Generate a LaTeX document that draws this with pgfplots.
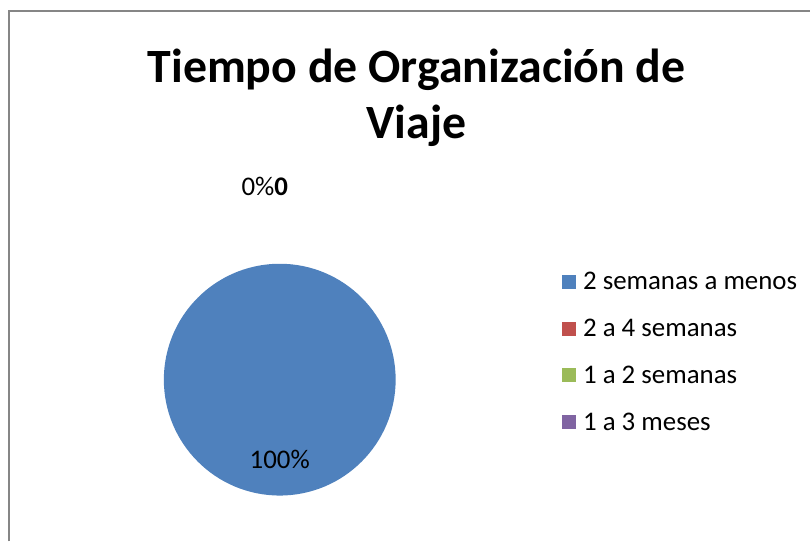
\documentclass[border=0pt]{standalone}
\usepackage{pgfplots}
\usepackage{pgfplotstable}
\pgfplotsset{compat=1.18}
\usepackage{fontspec}
\setmainfont{Carlito}

\definecolor{c1}{RGB}{79,129,189}
\definecolor{c2}{RGB}{192,80,77}
\definecolor{c3}{RGB}{155,187,89}
\definecolor{c4}{RGB}{128,100,162}
\definecolor{marco}{RGB}{134,134,134}

% tiempo de organizacion: porcentaje por categoria
\pgfplotstableread[col sep=comma]{
label,value,color
2 semanas a menos,100,c1
2 a 4 semanas,0,c2
1 a 2 semanas,0,c3
1 a 3 meses,0,c4
}\viajes

\begin{document}
\begin{tikzpicture}
\begin{axis}[
    scale only axis, width=811bp, height=542bp,
    xmin=0, xmax=811, ymin=0, ymax=542,
    hide axis, clip=false,
    legend style={at={(axis cs:562,272)}, anchor=north west, draw=none,
        font=\fontsize{27}{31}\selectfont, row sep=24bp, column sep=6bp, inner sep=0pt},
    legend cell align=left,
    legend image code/.code={\fill[#1] (0bp,-6.5bp) rectangle (13bp,6.5bp);},
]
% marco y caja completa
\path (axis cs:0,0) rectangle (axis cs:811,542);
\draw[marco, line width=1.5bp] (axis cs:9,0) |- (axis cs:811,531);

\pgfplotstablegetrowsof{\viajes}
\pgfmathtruncatemacro\nrows{\pgfplotsretval-1}
\def\cum{0}
\pgfplotsforeachungrouped \i in {0,...,\nrows}{
    \pgfplotstablegetelem{\i}{value}\of\viajes \let\v\pgfplotsretval
    \pgfplotstablegetelem{\i}{color}\of\viajes \let\c\pgfplotsretval
    \pgfplotstablegetelem{\i}{label}\of\viajes \let\lab\pgfplotsretval
    \pgfmathsetmacro\aone{90-3.6*\cum}
    \pgfmathsetmacro\atwo{90-3.6*(\cum+\v)}
    \ifdim\v pt>0pt
        \edef\temp{\noexpand\fill[\c] (axis cs:280,162) -- ++(\aone:116bp)
            arc[start angle=\aone, end angle=\atwo, radius=116bp] -- cycle;}
        \temp
    \fi
    \edef\temp{\noexpand\addlegendimage{\c}\noexpand\addlegendentry{\lab}}
    \temp
    \pgfmathsetmacro\cum{\cum+\v}
}

\node[font=\fontsize{27}{31}\selectfont] at (axis cs:280,82) {100\%};
\node[font=\fontsize{27}{31}\selectfont] at (axis cs:265,355) {0\%\textbf{0}};
\node[font=\bfseries\fontsize{48}{57}\selectfont, align=center] at (axis cs:417,444)
    {Tiempo de Organización de\\Viaje};
\end{axis}
\end{tikzpicture}
\end{document}
